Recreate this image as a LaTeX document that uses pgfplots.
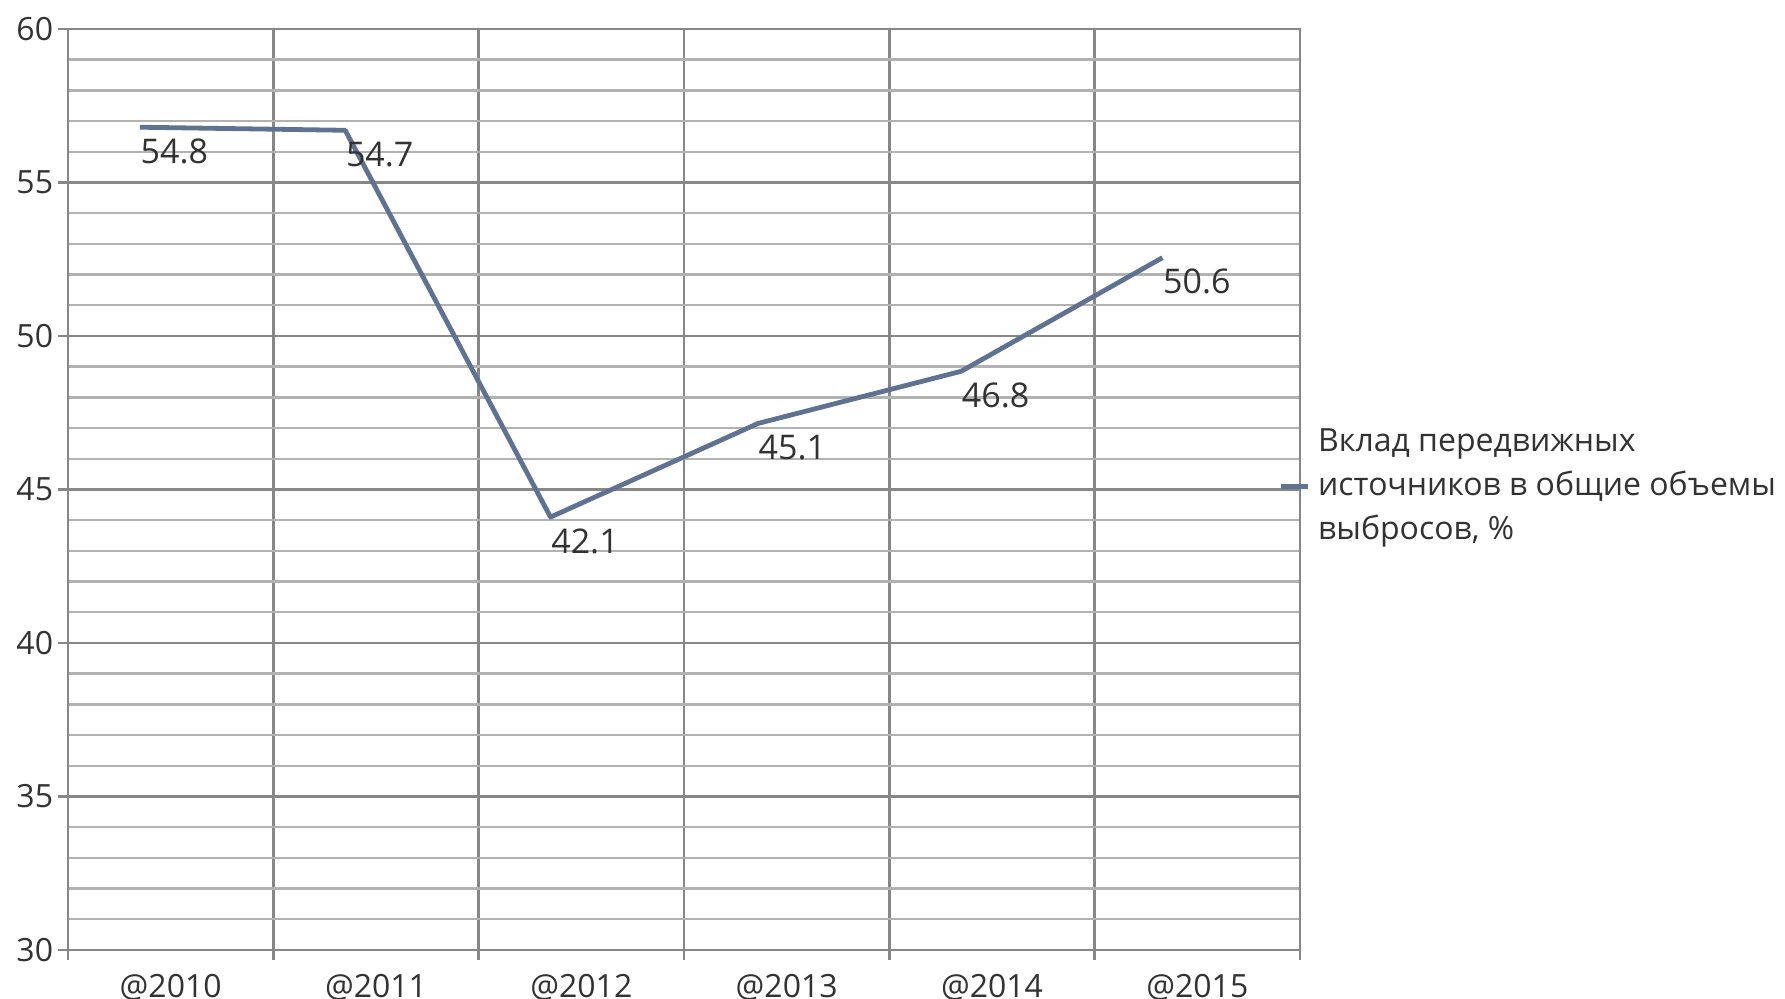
\documentclass[border=0pt]{standalone}
\usepackage{fontspec}
\setmainfont{Open Sans}
\usepackage{pgfplots}
\pgfplotsset{compat=1.18}
\definecolor{linec}{RGB}{96,114,146}
\definecolor{gridmaj}{RGB}{135,135,135}
\definecolor{gridmin}{RGB}{178,178,178}
\definecolor{txt}{RGB}{50,50,50}
\begin{document}
\begin{tikzpicture}
\begin{axis}[
  width=308pt, height=230.25pt, scale only axis,
  xmin=-0.5, xmax=5.5, ymin=30, ymax=60,
  xtick={-0.5,0.5,...,5.5},
  xticklabels={@2010,@2011,@2012,@2013,@2014,@2015},
  x tick label as interval,
  ytick={30,35,...,60},
  minor y tick num=4,
  grid=both,
  major grid style={gridmaj, line width=0.6pt},
  minor grid style={gridmin, line width=0.6pt},
  axis line style={gridmaj, line width=0.6pt},
  tick align=outside, major tick length=2.5pt, minor tick length=0pt,
  tick style={gridmaj, line width=0.6pt},
  xtick pos=bottom, ytick pos=left,
  ticklabel style={font=\fontsize{8}{9.6}\selectfont, text=txt},
  yticklabel style={xshift=2.3pt},
  /pgf/number format/assume math mode=true,
  legend style={at={(1,0.503)}, anchor=west, xshift=-5.55pt, draw=none, fill=none,
    font=\fontsize{8}{11}\selectfont, text=txt, cells={align=left}, inner sep=0pt,
    nodes={inner xsep=1.95pt}},
  legend image code/.code={\draw[#1, line width=1.2pt] (0pt,0pt) -- (6.75pt,0pt);},
]
\addplot[linec, line width=1.2pt, line join=round,
  nodes near coords, point meta=explicit symbolic,
  nodes near coords align={anchor=west},
  every node near coord/.append style={font=\fontsize{8.5}{10}\selectfont, text=txt, inner sep=0pt, yshift=-6pt, xshift=-0.4pt}]
  table[meta=label] {
x y label
-0.15 56.8 54.8
0.85 56.7 54.7
1.85 44.1 42.1
2.86 47.15 45.1
3.85 48.85 46.8
4.83 52.55 50.6
};
\addlegendentry{Вклад передвижных\\источников в общие объемы\\выбросов, \%}
\end{axis}
\pgfresetboundingbox
\path ([shift={(-17pt,-12.25pt)}]current axis.south west) rectangle ([shift={(121.25pt,7.25pt)}]current axis.north east);
\end{tikzpicture}
\end{document}
